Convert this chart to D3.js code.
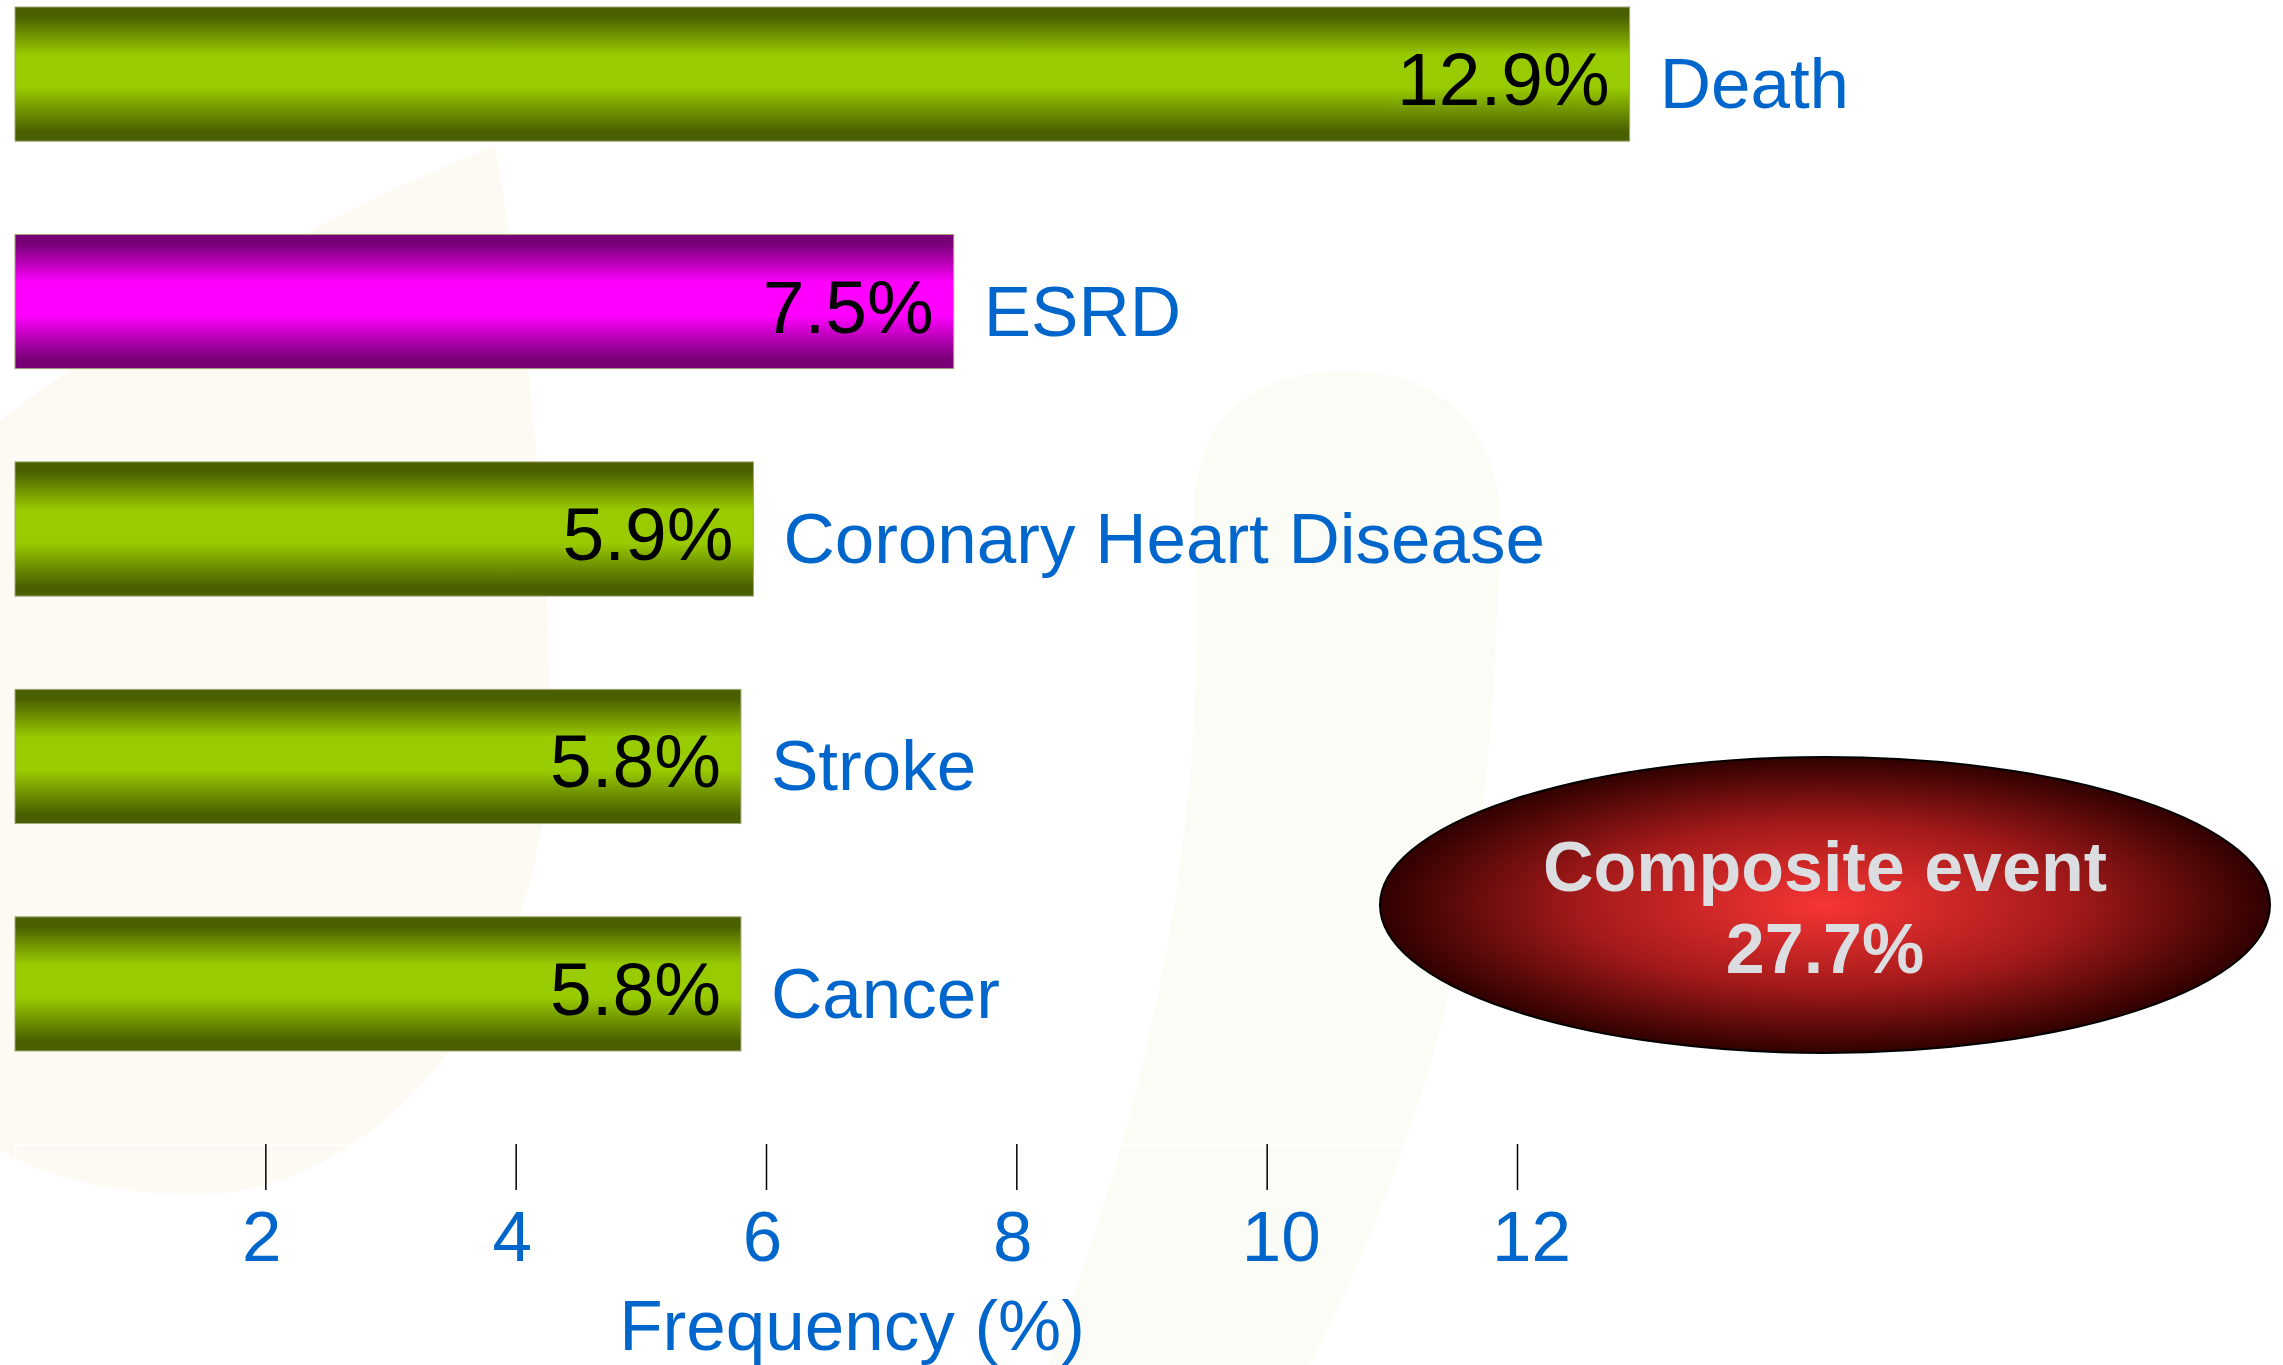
<!DOCTYPE html>
<html>
<head>
<meta charset="utf-8">
<script src="https://cdn.jsdelivr.net/npm/d3@7"></script>
<style>
  body { margin: 0; background: #ffffff; }
  svg { display: block; font-family: "Liberation Sans", Arial, sans-serif; }
</style>
</head>
<body>
<div id="chart"></div>
<script>
// data
var categories = ["Death", "ESRD", "Coronary Heart Disease", "Stroke", "Cancer"];
var values = [12.9, 7.5, 5.9, 5.8, 5.8];
var barColors = ["green", "magenta", "green", "green", "green"];
var tickValues = [2, 4, 6, 8, 10, 12];
var compositeLabel = ["Composite event", "27.7%"];
var axisTitle = "Frequency (%)";

var width = 2283, height = 1365;
var blue = "#0066cc";

var svg = d3.select("#chart").append("svg")
    .attr("width", width)
    .attr("height", height);

var defs = svg.append("defs");

// vertical "tube" gradients for the bars
function tubeGradient(id, dark, bright) {
    var g = defs.append("linearGradient")
        .attr("id", id)
        .attr("x1", 0).attr("y1", 0)
        .attr("x2", 0).attr("y2", 1);
    [[0, dark], [0.07, dark], [0.36, bright], [0.6, bright], [0.93, dark], [1, dark]]
        .forEach(function (s) {
            g.append("stop").attr("offset", s[0]).attr("stop-color", s[1]);
        });
}
tubeGradient("green", "#4a5f00", "#99cc00");
tubeGradient("magenta", "#780076", "#ff00ff");

var rg = defs.append("radialGradient").attr("id", "redglow");
rg.append("stop").attr("offset", 0).attr("stop-color", "#f73535");
rg.append("stop").attr("offset", 0.55).attr("stop-color", "#a51a1a");
rg.append("stop").attr("offset", 1).attr("stop-color", "#300000");

// faint watermark shapes in the background
var bg = svg.append("g").attr("class", "watermark");
bg.append("path")
    .attr("d", "M0 420 C 160 300, 340 210, 495 145 C 530 350, 560 600, 545 800 C 520 1030, 360 1190, 205 1194 C 110 1196, 40 1175, 0 1150 Z")
    .attr("fill", "#fdfaf4");
bg.append("path")
    .attr("d", "M1195 520 C 1190 420, 1250 371, 1347 371 C 1440 371, 1500 430, 1500 520 C 1495 800, 1470 1050, 1310 1365 L 1048 1365 C 1150 1100, 1210 820, 1195 520 Z")
    .attr("fill", "#fbfcf5");

var x = d3.scaleLinear()
    .domain([0, 12])
    .range([15, 1517]);

var y = d3.scaleBand()
    .domain(categories)
    .range([7, 1051])
    .paddingInner(0.41)
    .paddingOuter(0);

var plot = svg.append("g").attr("class", "chart-g");

var rows = plot.selectAll(".row")
    .data(categories.map(function (c, i) {
        return { cat: c, val: values[i], fill: barColors[i] };
    }))
    .enter().append("g")
    .attr("class", "row");

rows.append("rect")
    .attr("x", x(0))
    .attr("y", function (d) { return y(d.cat); })
    .attr("width", function (d) { return x(d.val) - x(0); })
    .attr("height", y.bandwidth())
    .attr("fill", function (d) { return "url(#" + d.fill + ")"; })
    .attr("stroke", "#a3a878")
    .attr("stroke-width", 1);

// value inside bar
rows.append("text")
    .attr("x", function (d) { return x(d.val) - 20; })
    .attr("y", function (d) { return y(d.cat) + y.bandwidth() / 2 + 31; })
    .attr("text-anchor", "end")
    .attr("font-size", 75)
    .attr("fill", "#000")
    .text(function (d) { return d.val.toFixed(1) + "%"; });

// category name to the right
rows.append("text")
    .attr("x", function (d) { return x(d.val) + 30; })
    .attr("y", function (d) { return y(d.cat) + y.bandwidth() / 2 + 34; })
    .attr("font-size", 71)
    .attr("fill", blue)
    .text(function (d) { return d.cat; });

// x axis
var axis = svg.append("g")
    .attr("transform", "translate(0,1144)")
    .call(d3.axisBottom(x).tickValues(tickValues).tickSize(46).tickFormat(d3.format("d")));

axis.select(".domain").attr("stroke", "#ffffff").attr("stroke-width", 2);
axis.selectAll(".tick line").attr("stroke", "#000").attr("stroke-width", 1.5);
axis.selectAll(".tick text")
    .attr("x", function (d) { return d >= 10 ? 14 : -4; })
    .attr("y", 117)
    .attr("dy", 0)
    .attr("font-size", 71)
    .attr("font-family", "Liberation Sans, Arial, sans-serif")
    .attr("fill", blue);

svg.append("text")
    .attr("x", 852)
    .attr("y", 1350)
    .attr("text-anchor", "middle")
    .attr("font-size", 71)
    .attr("fill", blue)
    .text(axisTitle);

// composite event bubble
var bubble = svg.append("g").attr("transform", "translate(1825,905)");
bubble.append("ellipse")
    .attr("rx", 445)
    .attr("ry", 148)
    .attr("fill", "url(#redglow)")
    .attr("stroke", "#000")
    .attr("stroke-width", 2);

bubble.selectAll("text")
    .data(compositeLabel)
    .enter().append("text")
    .attr("x", 0)
    .attr("y", function (d, i) { return -14 + i * 82; })
    .attr("text-anchor", "middle")
    .attr("font-size", 70)
    .attr("font-weight", "bold")
    .attr("fill", "#dcdde0")
    .text(function (d) { return d; });
</script>
</body>
</html>
